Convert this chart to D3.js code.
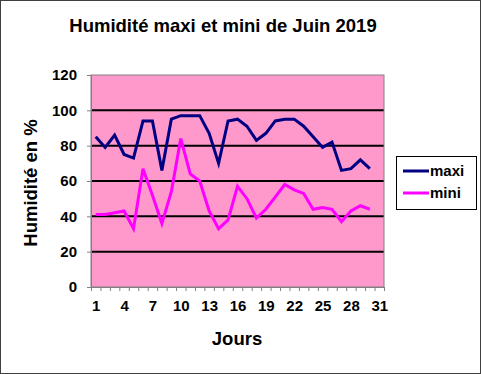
<!DOCTYPE html>
<html>
<head>
<meta charset="utf-8">
<script src="https://cdn.jsdelivr.net/npm/d3@7"></script>
<style>
body { margin: 0; background: #fff; }
text { font-family: Arial, "Liberation Sans", sans-serif; font-weight: bold; }
</style>
</head>
<body>
<div id="chart"></div>
<script>
// jours 1..31 (juin n'a que 30 valeurs)
var days = d3.range(1, 32);
var maxi = [85, 79, 86, 75, 73, 94, 94, 66, 95, 97, 97, 97, 87, 70, 94,
            95, 91, 83, 87, 94, 95, 95, 91, 85, 79, 82, 66, 67, 72, 67];
var mini = [41, 41, 42, 43, 33, 67, 52, 36, 54, 84, 64, 60, 43, 33, 38,
            57, 50, 39, 44, 51, 58, 55, 53, 44, 45, 44, 37, 43, 46, 44];
var yTicks = [0, 20, 40, 60, 80, 100, 120];
var xLabels = [1, 4, 7, 10, 13, 16, 19, 22, 25, 28, 31];

var w = 481, h = 374;
var svg = d3.select("#chart").append("svg")
    .attr("width", w)
    .attr("height", h);

svg.append("rect")
    .attr("x", 0.5).attr("y", 0.5)
    .attr("width", w - 1).attr("height", h - 1)
    .attr("fill", "#fff")
    .attr("stroke", "#404040");

var plotL = 91, plotR = 384, plotT = 75, plotB = 287;

var x = d3.scaleLinear().domain([0.5, 31.5]).range([plotL, plotR]);
var y = d3.scaleLinear().domain([0, 120]).range([plotB, plotT]);

// fond du graphique
svg.append("rect")
    .attr("x", plotL).attr("y", plotT)
    .attr("width", plotR - plotL).attr("height", plotB - plotT)
    .attr("fill", "#ff99cc");

svg.selectAll(".grid")
    .data(yTicks.filter(function(d) { return d > 0 && d < 120; }))
    .enter()
    .append("line")
    .attr("class", "grid")
    .attr("x1", plotL).attr("x2", plotR)
    .attr("y1", function(d) { return y(d); })
    .attr("y2", function(d) { return y(d); })
    .attr("stroke", "#000")
    .attr("stroke-width", 2);

svg.append("rect")
    .attr("x", plotL).attr("y", plotT)
    .attr("width", plotR - plotL).attr("height", plotB - plotT)
    .attr("fill", "none")
    .attr("stroke", "#808080");

// axe Y
var yAxis = svg.append("g")
    .attr("transform", "translate(" + plotL + ",0)")
    .call(d3.axisLeft(y).tickValues(yTicks).tickSize(4).tickSizeOuter(0).tickPadding(10));
yAxis.select(".domain").attr("stroke", "#808080");
yAxis.selectAll(".tick line").attr("stroke", "#808080");
yAxis.selectAll("text").style("font-size", "15px").attr("fill", "#000");

// axe X : graduations entre les catégories
var xAxis = svg.append("g")
    .attr("transform", "translate(0," + plotB + ")")
    .call(d3.axisBottom(x).tickValues(d3.range(0.5, 32, 1)).tickSize(4).tickSizeOuter(0).tickFormat(""));
xAxis.select(".domain").attr("stroke", "#808080");
xAxis.selectAll(".tick line").attr("stroke", "#808080");

var xLab = svg.append("g")
    .attr("transform", "translate(0," + plotB + ")")
    .call(d3.axisBottom(x).tickValues(xLabels).tickSize(0).tickPadding(13));
xLab.select(".domain").remove();
xLab.selectAll("text").style("font-size", "15px").attr("fill", "#000");

// courbes
var line = d3.line()
    .x(function(d, i) { return x(days[i]); })
    .y(function(d) { return y(d); });

svg.append("path")
    .datum(maxi)
    .attr("d", line)
    .attr("fill", "none")
    .attr("stroke", "#000080")
    .attr("stroke-width", 3);

svg.append("path")
    .datum(mini)
    .attr("d", line)
    .attr("fill", "none")
    .attr("stroke", "#ff00ff")
    .attr("stroke-width", 3);

// titres
svg.append("text")
    .attr("x", 223).attr("y", 32)
    .attr("text-anchor", "middle")
    .style("font-size", "18.5px")
    .text("Humidité maxi et mini de Juin 2019");

svg.append("text")
    .attr("x", 237).attr("y", 345)
    .attr("text-anchor", "middle")
    .style("font-size", "18.5px")
    .text("Jours");

svg.append("text")
    .attr("transform", "translate(37,183) rotate(-90)")
    .attr("text-anchor", "middle")
    .style("font-size", "18.5px")
    .text("Humidité en %");

// légende
var legend = svg.append("g");
legend.append("rect")
    .attr("x", 396.5).attr("y", 156.5)
    .attr("width", 80).attr("height", 53)
    .attr("fill", "#fff")
    .attr("stroke", "#000");

var series = [{name: "maxi", color: "#000080"}, {name: "mini", color: "#ff00ff"}];
var item = legend.selectAll(".item")
    .data(series)
    .enter()
    .append("g")
    .attr("class", "item")
    .attr("transform", function(d, i) { return "translate(0," + (171 + i * 22) + ")"; });
item.append("line")
    .attr("x1", 403).attr("x2", 429)
    .attr("stroke", function(d) { return d.color; })
    .attr("stroke-width", 3);
item.append("text")
    .attr("x", 430).attr("dy", "0.35em")
    .style("font-size", "15px")
    .text(function(d) { return d.name; });
</script>
</body>
</html>
